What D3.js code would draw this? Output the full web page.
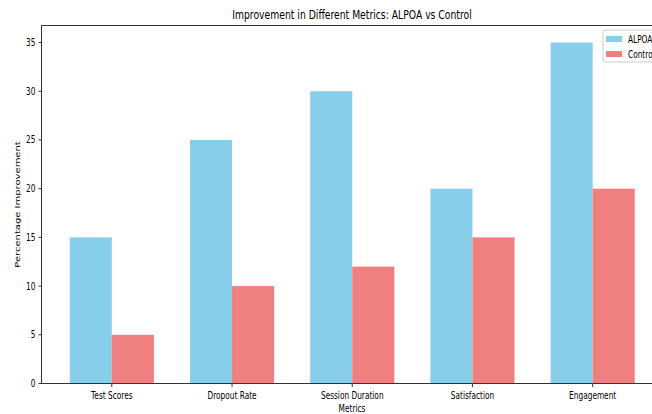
<!DOCTYPE html>
<html><head><meta charset="utf-8">
<script src="https://cdn.jsdelivr.net/npm/d3@7"></script>
<style>body{margin:0;background:#fff}svg{display:block}text{font-family:"DejaVu Sans",sans-serif;fill:#000}</style>
</head><body>
<svg id="c" width="652" height="414"></svg>
<script>
const categories = ["Test Scores","Dropout Rate","Session Duration","Satisfaction","Engagement"];
const alpoa = [15,25,30,20,35];
const control = [5,10,12,15,20];
const yTicks = [0,5,10,15,20,25,30,35];
const seriesNames = ["ALPOA","Control"];
const colors = ["#87CEEB","#F08080"];

const SX = 0.74;
const svg = d3.select("#c");
const L = 41.5, R = 663, T = 25.5, B = 383.5;
const x = d3.scaleLinear().domain([-0.585, 4.585]).range([L, R]);
const y = d3.scaleLinear().domain([0, 36.75]).range([B, T]);
const bw = 0.35;

function sqText(g, px, py, str, size, anchor, rot) {
  return g.append("g").attr("transform", `translate(${px},${py}) scale(${SX},1)` + (rot ? ` rotate(${rot})` : ""))
    .append("text").attr("font-size", size).attr("text-anchor", anchor).text(str);
}

const data = categories.map((c,i)=>({c,i,v:[alpoa[i],control[i]]}));
[0,1].forEach(s=>{
  svg.append("g").selectAll("rect").data(data).join("rect")
    .attr("x", d=>x(d.i + (s===0 ? -bw : 0)))
    .attr("width", d=>x(d.i+bw)-x(d.i))
    .attr("y", d=>y(d.v[s]))
    .attr("height", d=>y(0)-y(d.v[s]))
    .attr("fill", colors[s]);
});

svg.append("rect").attr("x",L).attr("y",T).attr("width",R-L).attr("height",B-T)
  .attr("fill","none").attr("stroke","#333").attr("stroke-width",1);

const ya = svg.append("g");
yTicks.forEach(v=>{
  ya.append("line").attr("x1",L-3).attr("x2",L).attr("y1",y(v)).attr("y2",y(v)).attr("stroke","#333");
  sqText(ya, L-6, y(v)+3.5, String(v), 10, "end");
});
const xa = svg.append("g");
categories.forEach((c,i)=>{
  xa.append("line").attr("x1",x(i)).attr("x2",x(i)).attr("y1",B).attr("y2",B+3.5).attr("stroke","#333");
  sqText(xa, x(i), B+15, c, 10, "middle");
});

sqText(svg, 352, 412, "Metrics", 10, "middle");
sqText(svg, 20, (T+B)/2, "Percentage Improvement", 10, "middle", -90);
sqText(svg, 352, 19, "Improvement in Different Metrics: ALPOA vs Control", 12.5, "middle");

const lg = svg.append("g");
lg.append("rect").attr("x",603).attr("y",30).attr("width",80).attr("height",32).attr("rx",2)
  .attr("fill","#fff").attr("fill-opacity",0.8).attr("stroke","#ccc");
seriesNames.forEach((n,i)=>{
  lg.append("rect").attr("x",606).attr("y",36+i*15).attr("width",16).attr("height",6).attr("fill",colors[i]);
  sqText(lg, 628, 42.5+i*15, n, 10, "start");
});
</script>
</body></html>
